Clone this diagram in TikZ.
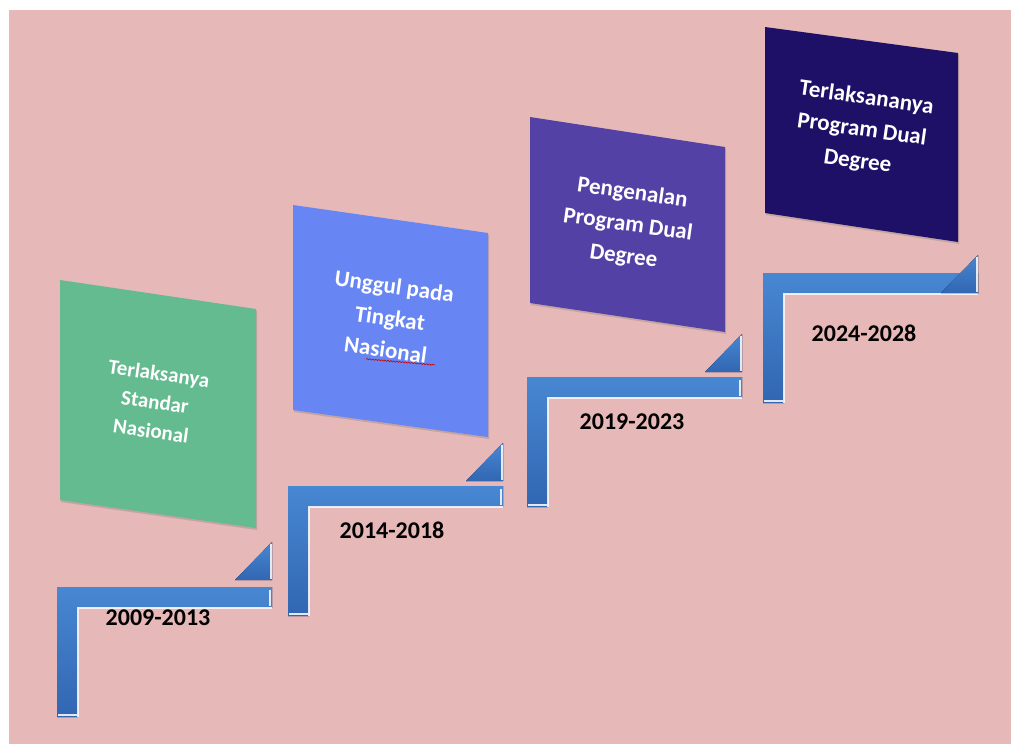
\documentclass[tikz,border=0pt]{standalone}
\usepackage{fontspec}
\setmainfont{Carlito}
\usetikzlibrary{shadows,decorations.pathmorphing}
\definecolor{bgpink}{HTML}{E6B8B7}
\definecolor{boxgreen}{HTML}{63BB8F}
\definecolor{boxblue}{HTML}{6785F3}
\definecolor{boxpurple}{HTML}{5341A6}
\definecolor{boxnavy}{HTML}{1E1066}
\definecolor{stairlight}{HTML}{4887D2}
\definecolor{stairdark}{HTML}{3166B2}
\tikzset{
	goalbox/.style={drop shadow={opacity=.35, shadow xshift=1pt, shadow yshift=-2pt}},
	goaltext/.style={text=white, font=\bfseries\fontsize{23}{32}\selectfont, align=center, rotate=-8},
	yeartext/.style={font=\bfseries\fontsize{24}{28}\selectfont},
	stairedge/.style={white, line width=1.6pt, opacity=.85},
}
\begin{document}
\begin{tikzpicture}[x=1pt, y=-1pt]
	\useasboundingbox (0,0) rectangle (1011,744);
	\fill[white] (0,0) rectangle (1011,744);
	\fill[bgpink] (9,10) rectangle (1011,744);

	% goal boxes
	\fill[boxgreen, goalbox] (60,280) -- (256,309) -- (256,528) -- (60,500) -- cycle;
	\fill[boxblue, goalbox] (293,205) -- (488,233) -- (488,437) -- (293,410) -- cycle;
	\fill[boxpurple, goalbox] (530,117) -- (725,147) -- (725,332) -- (530,303) -- cycle;
	\fill[boxnavy, goalbox] (765,27) -- (958,53) -- (958,242) -- (765,213) -- cycle;

	\node[goaltext, font=\bfseries\fontsize{21}{29}\selectfont] (goal1) at (155,402) {Terlaksanya\\Standar\\Nasional};
	\node[goaltext] (goal2) at (390,318) {Unggul pada\\Tingkat\\Nasional};
	\node[goaltext] (goal3) at (628,225) {Pengenalan\\Program Dual\\Degree};
	\node[goaltext] (goal4) at (862,130) {Terlaksananya\\Program Dual\\Degree};
	\draw[red!80!black, line width=.6pt, decorate, decoration={snake, amplitude=.6pt, segment length=3pt}] (366,359) -- (435,365);

	% stairs
	\foreach \sx/\sy/\ty in {57/587/-7, 288/486/-5, 527/377/-5, 763/273/20} {
		\fill[top color=stairlight, bottom color=stairdark] (\sx,\sy) -- ++(215,0) -- ++(0,21) -- ++(-194,0) -- ++(0,109) -- ++(-21,0) -- cycle;
		\draw[stairedge] (\sx+21,\sy+130) -- (\sx+21,\sy+21) -- (\sx+215,\sy+21);
		\draw[stairedge] (\sx+1,\sy+128) -- (\sx+20,\sy+128);
		\draw[stairedge] (\sx+213,\sy+3) -- (\sx+213,\sy+19);
		\fill[top color=stairlight, bottom color=stairdark] (\sx+178,\sy+\ty) -- (\sx+215,\sy+\ty) -- (\sx+215,\sy+\ty-38) -- cycle;
		\draw[stairedge] (\sx+214,\sy+\ty-36) -- (\sx+214,\sy+\ty-1);
	}

	\node[yeartext] (year1) at (158,618) {2009-2013};
	\node[yeartext] (year2) at (392,530) {2014-2018};
	\node[yeartext] (year3) at (632,422) {2019-2023};
	\node[yeartext] (year4) at (864,333) {2024-2028};
\end{tikzpicture}
\end{document}
